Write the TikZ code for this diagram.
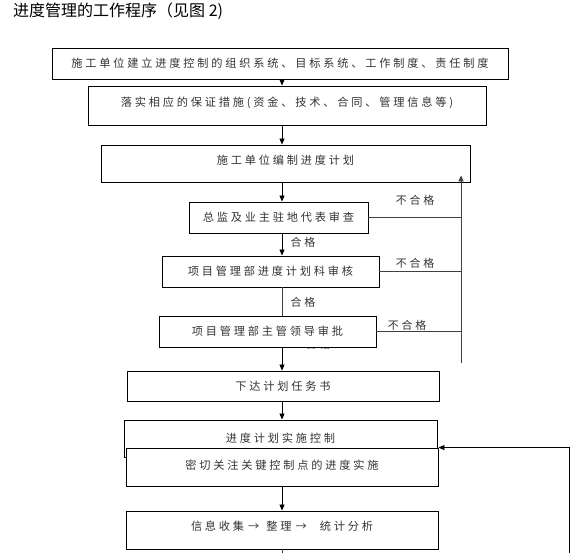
\documentclass[tikz,border=0pt]{standalone}
\usepackage{fontspec}
\setmainfont{Noto Sans CJK SC}
\newfontfamily\boxfont[LetterSpace=25]{Noto Sans CJK SC}
\usetikzlibrary{arrows.meta,calc}

\begin{document}
\begin{tikzpicture}[x=1pt,y=-1pt,
  proc/.style={draw, line width=0.9pt, fill=white, inner sep=0pt,
               font=\boxfont\fontsize{11.2}{13}\selectfont, text=black!80},
  high/.style={text depth=8pt},
  arr/.style={-{Triangle[length=6pt,width=5pt]}, line width=0.8pt},
  link/.style={line width=0.8pt, black!75},
  note/.style={font=\boxfont\fontsize{11}{13}\selectfont, text=black!80, inner sep=0pt}
]
  \useasboundingbox (0,0) rectangle (580,553);

  % Title
  \node[anchor=west, inner sep=0pt, font=\fontsize{16}{19}\selectfont] (title) at (13,11)
    {进度管理的工作程序（见图 2)};

  % Spine and return lines
  \coordinate (spine)  at (282,0);
  \coordinate (retlow) at (461,363);
  \coordinate (fbbot)  at (569,553);
  \coordinate (endbot) at (282,553);

  % Main steps (vertical)
  \node[proc, minimum width=456pt, minimum height=31pt] (org)    at (280,63.5)
    {施工单位建立进度控制的组织系统、目标系统、工作制度、责任制度};
  \node[proc, high, minimum width=398pt, minimum height=39pt] (secure) at (287,105.5)
    {落实相应的保证措施(资金、技术、合同、管理信息等)};
  \node[proc, high, minimum width=369pt, minimum height=37pt] (plan)   at (285.5,163.5)
    {施工单位编制进度计划};
  \node[proc, minimum width=179pt, minimum height=31pt] (review) at (278.5,217.5)
    {总监及业主驻地代表审查};
  \node[proc, minimum width=217pt, minimum height=31pt] (check)  at (270.5,271.5)
    {项目管理部进度计划科审核};
  % label half hidden under the next box
  \node[note] (ok3) at (318,344) {合格};
  \node[proc, minimum width=217pt, minimum height=31pt] (approve) at (267.5,331.5)
    {项目管理部主管领导审批};
  \node[proc, minimum width=312pt, minimum height=30pt] (issue)  at (283,386)
    {下达计划任务书};
  \node[proc, minimum width=313pt, minimum height=37pt] (control) at (280.5,438.5)
    {进度计划实施控制};
  \node[proc, text depth=5pt, minimum width=312pt, minimum height=38pt] (watch)  at (282,467)
    {密切关注关键控制点的进度实施};
  \node[proc, high, minimum width=312pt, minimum height=38pt] (info)   at (282,530)
    {信息收集\hspace{4pt}→\hspace{7pt}整理\hspace{4pt}→\hspace{13pt}统计分析};

  % Arrows down the spine
  \draw[arr] (org.south -| spine)     -- (secure.north -| spine);
  \draw[arr] (secure.south -| spine)  -- (plan.north -| spine);
  \draw[arr] (plan.south -| spine)    -- (review.north -| spine);
  \draw[arr] (review.south -| spine)  -- (check.north -| spine);
  \draw[link] (check.south -| spine)  -- (approve.north -| spine);
  \draw[arr] (approve.south -| spine) -- (issue.north -| spine);
  \draw[arr] (issue.south -| spine)   -- (control.north -| spine);
  \draw[arr] (watch.south -| spine)   -- (info.north -| spine);
  \draw[link] (info.south -| spine)   -- (endbot);

  % Rejections back to the plan
  \draw[link] (review.east)  -- (review.east -| retlow);
  \draw[link] (check.east)   -- (check.east -| retlow);
  \draw[link] (approve.east) -- (approve.east -| retlow);
  \draw[arr, black!75] (retlow) -- ($(plan.south -| retlow)+(0,-7)$);

  % Feedback into the control step
  \draw[arr] (fbbot) |- (watch.north east);

  % Labels
  \node[note] (bad1) at (415,200) {不合格};
  \node[note] (bad2) at (415,263) {不合格};
  \node[note] (bad3) at (407,325) {不合格};
  \node[note] (ok1)  at (303,242) {合格};
  \node[note] (ok2)  at (303,302) {合格};
\end{tikzpicture}
\end{document}
